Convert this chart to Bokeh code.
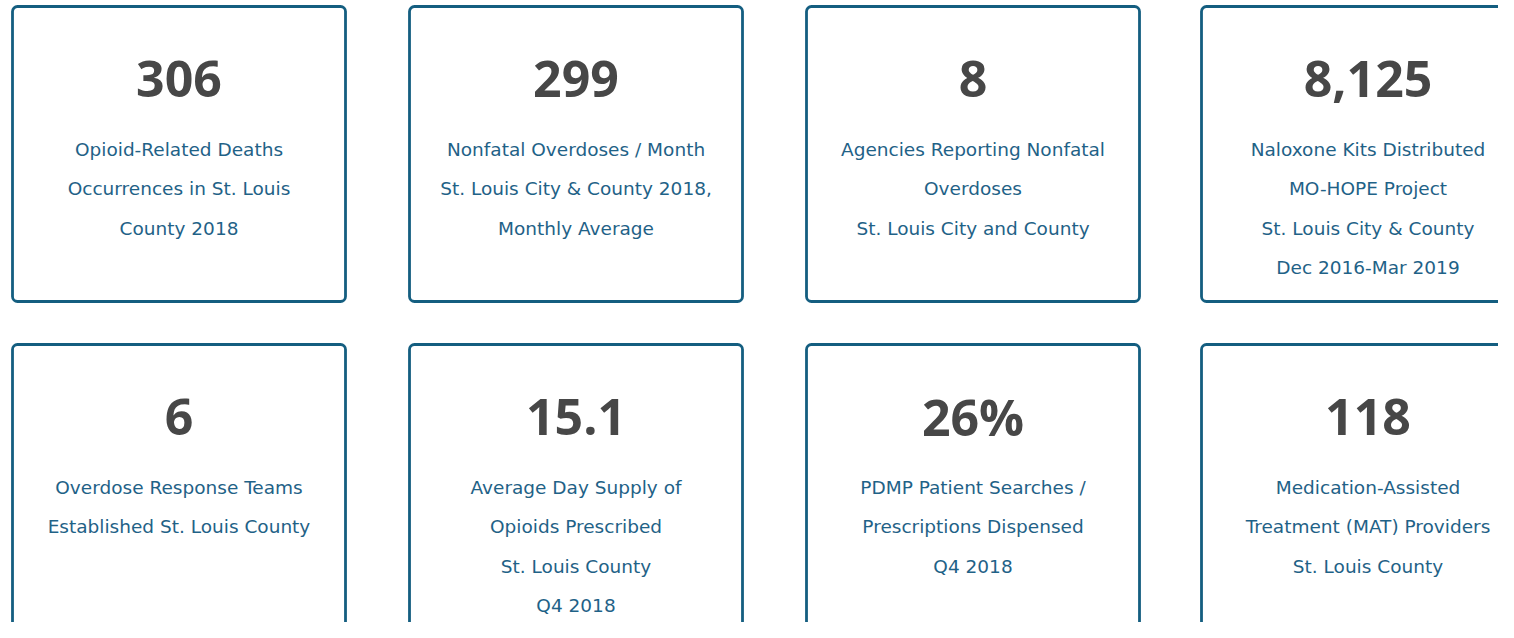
from bokeh.plotting import figure
from bokeh.models import Range1d, ColumnDataSource
from bokeh.core.properties import value
from bokeh.embed import file_html
from bokeh.resources import INLINE

# ---- data ----
values = ["306", "299", "8", "8,125", "6", "15.1", "26%", "118"]
labels = [
    ["Opioid-Related Deaths", "Occurrences in St. Louis", "County 2018"],
    ["Nonfatal Overdoses / Month", "St. Louis City & County 2018,", "Monthly Average"],
    ["Agencies Reporting Nonfatal", "Overdoses", "St. Louis City and County"],
    ["Naloxone Kits Distributed", "MO-HOPE Project", "St. Louis City & County", "Dec 2016-Mar 2019"],
    ["Overdose Response Teams", "Established St. Louis County"],
    ["Average Day Supply of", "Opioids Prescribed", "St. Louis County", "Q4 2018"],
    ["PDMP Patient Searches /", "Prescriptions Dispensed", "Q4 2018"],
    ["Medication-Assisted", "Treatment (MAT) Providers", "St. Louis County"],
]

W, H = 1498, 622

# layout (pixel coordinates)
col_left = [12, 409, 806, 1201]
card_w = 333
row_top = [6, 344]
card_h = 295
num_mid = 78
line_mid0 = 149
line_step = 39.3

cl, cr, ct, cb = [], [], [], []
nx, ny = [], []
lx, ly, lt = [], [], []
for i, v in enumerate(values):
    c, r = i % 4, i // 4
    left = col_left[c]
    top = row_top[r]
    cl.append(left); cr.append(left + card_w)
    ct.append(top); cb.append(top + card_h)
    cx = left + card_w / 2
    nx.append(cx); ny.append(top + (num_mid - row_top[0]))
    for k, line in enumerate(labels[i]):
        lx.append(cx)
        ly.append(top + (line_mid0 - row_top[0]) + k * line_step)
        lt.append(line)

p = figure(width=W, height=H, output_backend="svg", toolbar_location=None,
           x_range=Range1d(0, W), y_range=Range1d(H, 0), min_border=0)
p.axis.visible = False
p.grid.visible = False
p.outline_line_color = None
p.background_fill_color = "white"
p.border_fill_color = "white"

cards = ColumnDataSource(dict(left=cl, right=cr, top=ct, bottom=cb))
p.quad(left="left", right="right", top="top", bottom="bottom", source=cards,
       fill_color="white", line_color="#145e80", line_width=2.8, border_radius=5)

nums = ColumnDataSource(dict(x=nx, y=ny, t=values))
p.text(x="x", y="y", text="t", source=nums, text_align="center",
       text_baseline="middle", text_font=value("Open Sans"),
       text_font_style="bold", text_font_size="50px", text_color="#474747")

labs = ColumnDataSource(dict(x=lx, y=ly, t=lt))
p.text(x="x", y="y", text="t", source=labs, text_align="center",
       text_baseline="middle", text_font=value("DejaVu Sans"),
       text_font_size="18.5px", text_color="#1f6287")

open("out.html", "w").write(file_html(p, INLINE))
